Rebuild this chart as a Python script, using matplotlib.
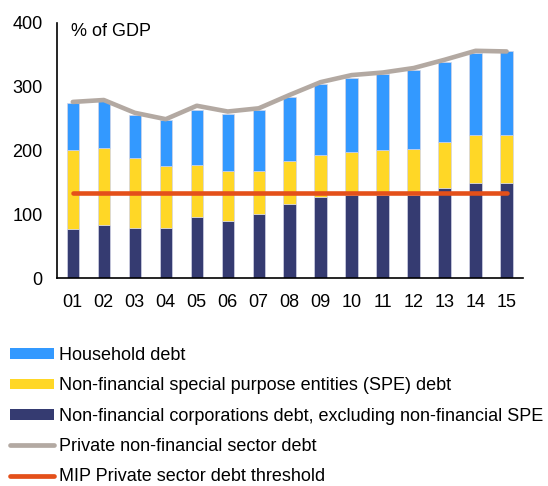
import matplotlib
matplotlib.use("Agg")
import matplotlib.pyplot as plt
import numpy as np
from matplotlib.patches import Patch
from matplotlib.lines import Line2D

plt.rcParams['font.family'] = ['Liberation Sans', 'DejaVu Sans']

years = ["01", "02", "03", "04", "05", "06", "07", "08", "09", "10", "11", "12", "13", "14", "15"]
nfc_debt = [77, 84, 78, 79, 96, 89, 101, 116, 127, 130, 130, 130, 142, 149, 149]
spe_debt = [123, 120, 111, 97, 82, 79, 67, 67, 66, 68, 71, 72, 72, 75, 76]
household_debt = [75, 74, 67, 72, 86, 89, 95, 101, 111, 115, 118, 124, 125, 129, 130]
private_total = [276, 279, 259, 249, 270, 261, 266, 287, 307, 318, 322, 329, 342, 356, 355]
mip_threshold = [133] * 15

c_blue = "#3399FF"
c_yellow = "#FFD726"
c_navy = "#353B71"
c_gray = "#B3A9A2"
c_orange = "#E4501A"
c_edge = "#D2D4E6"

fig = plt.figure(figsize=(5.48, 4.86), dpi=100)
ax = fig.add_axes([0.1046, 0.4274, 0.8492, 0.5259])

x = np.arange(len(years))
w = 0.40
nfc = np.array(nfc_debt)
spe = np.array(spe_debt)
hh = np.array(household_debt)
ax.bar(x, nfc, w, color=c_navy, edgecolor=c_edge, linewidth=0.5, zorder=2)
ax.bar(x, spe, w, bottom=nfc, color=c_yellow, edgecolor=c_edge, linewidth=0.5, zorder=2)
ax.bar(x, hh, w, bottom=nfc + spe, color=c_blue, edgecolor=c_edge, linewidth=0.5, zorder=2)
ax.plot(x, private_total, color=c_gray, lw=3.3, solid_capstyle='round', zorder=3)
ax.plot(x, mip_threshold, color=c_orange, lw=3.3, solid_capstyle='round', zorder=4)

ax.set_xlim(-0.5, 14.52)
ax.set_ylim(0, 400)
ax.set_yticks([0, 100, 200, 300, 400])
ax.set_xticks(x)
ax.set_xticklabels(years)
ax.tick_params(axis='both', length=0, labelsize=13)
ax.tick_params(axis='y', pad=10.5)
ax.tick_params(axis='x', pad=11)
for s in ['top', 'right']:
    ax.spines[s].set_visible(False)
for s in ['left', 'bottom']:
    ax.spines[s].set_linewidth(1.2)
    ax.spines[s].set_color('black')
fig.text(71 / 548, 1 - 35.7 / 486, "% of GDP", fontsize=13, va='baseline', ha='left')

handles = [
    Patch(facecolor=c_blue),
    Patch(facecolor=c_yellow),
    Patch(facecolor=c_navy),
    Line2D([0], [0], color=c_gray, lw=3.4, solid_capstyle='round'),
    Line2D([0], [0], color=c_orange, lw=3.4, solid_capstyle='round'),
]
labels = [
    "Household debt",
    "Non-financial special purpose entities (SPE) debt",
    "Non-financial corporations debt, excluding non-financial SPE",
    "Private non-financial sector debt",
    "MIP Private sector debt threshold",
]
fig.legend(handles, labels, loc='upper left', bbox_to_anchor=(10 / 548, 1 - 347 / 486),
           frameon=False, fontsize=13, handlelength=2.45, handleheight=0.55,
           handletextpad=0.28, labelspacing=0.74, borderaxespad=0, borderpad=0)

fig.savefig("out.png", dpi=100)
